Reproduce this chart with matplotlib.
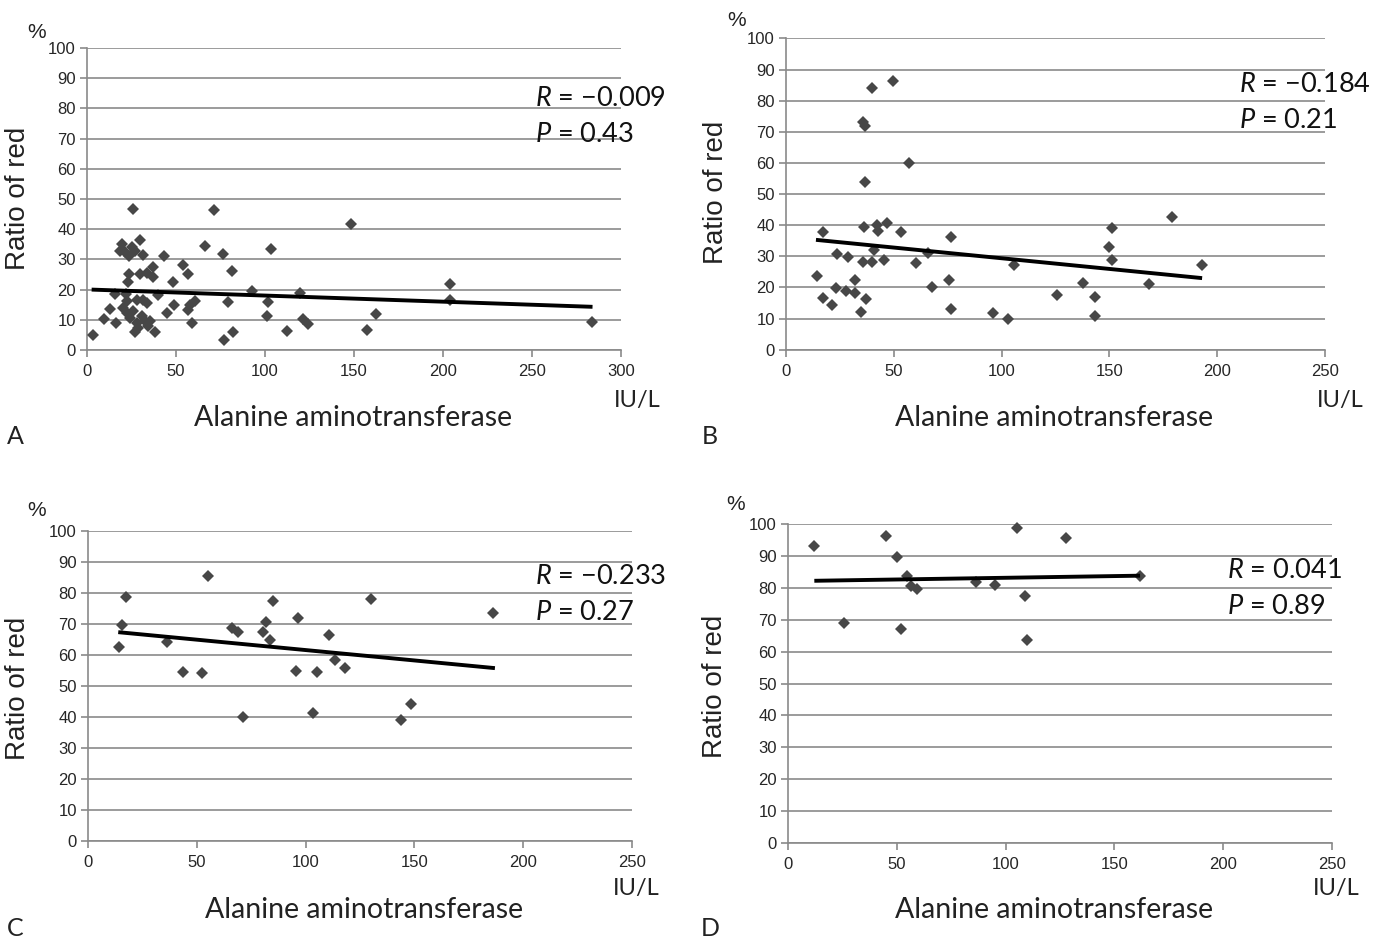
import matplotlib
matplotlib.use("Agg")
import matplotlib.pyplot as plt

plt.rcParams['mathtext.fontset'] = 'custom'
plt.rcParams['mathtext.it'] = 'Lato:italic'
plt.rcParams['mathtext.rm'] = 'Lato'

# ---------------- data ----------------
a_x = [3.5, 9.7, 12.9, 15.7, 16.1, 18.5, 19.5, 21.3, 23.8, 25.5, 27.0, 31.6, 26.0, 29.5,
       23.8, 29.8, 33.9, 23.2, 36.9, 36.9, 43.3, 48.3, 54.1, 56.7, 22.0, 22.3, 40.1, 27.9,
       31.6, 33.5, 20.4, 22.3, 24.2, 26.0, 27.9, 30.7, 32.6, 34.4, 27.0, 28.8, 38.2, 35.4,
       44.8, 48.9, 57.9, 60.7, 58.8, 56.9, 66.3, 71.3, 76.6, 81.5, 79.4, 77.0, 81.8, 92.5,
       101.5, 100.9, 103.2, 112.2, 119.7, 121.5, 124.3, 148.1, 157.5, 162.2, 203.9, 203.9, 283.5]
a_y = [4.9, 10.1, 13.5, 18.4, 9.0, 32.9, 35.1, 32.3, 31.2, 34.0, 32.7, 31.4, 46.8, 36.5,
       25.3, 25.0, 25.4, 22.5, 27.5, 24.3, 31.2, 22.4, 28.2, 25.1, 18.4, 16.2, 18.2, 16.4,
       16.7, 15.6, 13.9, 12.3, 10.6, 12.8, 8.9, 11.1, 9.5, 7.8, 6.1, 7.3, 5.9, 9.5,
       12.3, 15.0, 15.0, 16.2, 8.9, 13.4, 34.4, 46.4, 31.8, 26.2, 16.0, 3.3, 5.8, 19.6,
       16.0, 11.3, 33.4, 6.2, 19.0, 10.4, 8.7, 41.7, 6.5, 12.0, 22.0, 16.5, 9.2]
a_trend_x = [2.6, 284.0]
a_trend_y = [20.0, 14.3]

b_x = [14.2, 17.3, 17.3, 21.5, 23.2, 23.5, 27.8, 28.9, 32.0, 32.0, 34.8, 35.9, 36.6, 36.6,
       36.2, 35.9, 37.0, 39.7, 40.0, 41.0, 42.0, 42.5, 45.6, 46.7, 49.8, 53.2, 57.0, 60.3,
       65.7, 67.9, 75.7, 76.5, 76.5, 96.2, 103.1, 105.9, 125.6, 137.6, 143.3, 143.3, 149.7,
       151.4, 151.4, 168.5, 178.9, 192.8]
b_y = [23.6, 37.7, 16.6, 14.5, 19.7, 30.7, 19.0, 29.7, 22.5, 18.2, 12.0, 73.1, 71.8, 53.8,
       39.3, 28.1, 16.3, 28.1, 84.1, 32.0, 40.2, 38.3, 28.9, 40.7, 86.2, 37.7, 60.0, 27.9,
       31.0, 20.0, 22.5, 36.1, 13.1, 11.7, 9.9, 27.2, 17.7, 21.4, 17.0, 10.8, 33.1,
       39.0, 28.9, 21.1, 42.8, 27.3]
b_trend_x = [13.9, 193.0]
b_trend_y = [35.3, 23.0]

c_x = [14.4, 15.5, 17.3, 36.2, 43.5, 52.2, 55.0, 66.0, 69.1, 71.4, 80.3, 81.8, 83.6, 84.9,
       95.4, 96.4, 103.6, 105.4, 110.6, 113.7, 118.3, 130.0, 143.8, 148.4, 186.3]
c_y = [62.4, 69.7, 78.5, 64.0, 54.4, 54.1, 85.3, 68.6, 67.3, 39.8, 67.2, 70.7, 64.8, 77.2,
       54.9, 71.8, 41.2, 54.4, 66.5, 58.2, 55.7, 78.1, 39.0, 44.2, 73.6]
c_trend_x = [13.9, 187.0]
c_trend_y = [67.3, 55.7]

d_x = [12.1, 25.9, 44.9, 50.0, 51.8, 54.8, 56.4, 59.1, 86.4, 95.3, 105.1, 108.9, 109.7, 127.8, 161.8]
d_y = [93.2, 68.9, 96.3, 89.7, 67.0, 83.7, 80.6, 79.5, 81.7, 80.9, 98.6, 77.5, 63.6, 95.5, 83.8]
d_trend_x = [12.1, 161.8]
d_trend_y = [82.2, 83.8]

r_texts = ["−0.009", "−0.184", "−0.233", "0.041"]
p_texts = ["0.43", "0.21", "0.27", "0.89"]
panel_letters = ["A", "B", "C", "D"]
x_maxes = [300, 250, 250, 250]
y_ticks = list(range(0, 101, 10))

W, H = 1385, 942
fig = plt.figure(figsize=(W / 100, H / 100), dpi=100)


def rect(l, r, t, b):
    return [l / W, 1 - b / H, (r - l) / W, (b - t) / H]


def ft(x, y, s, **kw):
    fig.text(x / W, 1 - y / H, s, **kw)


panels = [
    dict(x=a_x, y=a_y, tx=a_trend_x, ty=a_trend_y, box=(87, 621, 48, 350),
         pct=(37, 33), ylab=(18, 198), xlab=(353, 418), iul=(637, 401),
         rp=(535, 98, 135), letter=(15, 437)),
    dict(x=b_x, y=b_y, tx=b_trend_x, ty=b_trend_y, box=(786, 1325, 38.5, 349.7),
         pct=(737, 20), ylab=(716, 192), xlab=(1054, 418), iul=(1340, 401),
         rp=(1239, 85, 121), letter=(710, 437)),
    dict(x=c_x, y=c_y, tx=c_trend_x, ty=c_trend_y, box=(88, 632, 530.8, 840.8),
         pct=(37, 511), ylab=(18, 688), xlab=(364, 910), iul=(636, 889),
         rp=(535, 577, 613), letter=(15, 928)),
    dict(x=d_x, y=d_y, tx=d_trend_x, ty=d_trend_y, box=(788, 1332, 524, 843),
         pct=(736, 505), ylab=(715, 686), xlab=(1054, 910), iul=(1336, 889),
         rp=(1227, 570, 606), letter=(710, 928)),
]

grid_c = '#8a8a8a'
for i, p in enumerate(panels):
    ax = fig.add_axes(rect(*p['box']))
    ax.set_xlim(0, x_maxes[i])
    ax.set_ylim(0, 100)
    ax.set_xticks(list(range(0, x_maxes[i] + 1, 50)))
    ax.set_yticks(y_ticks)
    ax.yaxis.grid(True, color=grid_c, linewidth=1.2)
    ax.set_axisbelow(True)
    for s in ['top', 'right']:
        ax.spines[s].set_visible(False)
    for s in ['left', 'bottom']:
        ax.spines[s].set_color(grid_c)
        ax.spines[s].set_linewidth(1.2)
    ax.tick_params(axis='both', direction='out', length=5, width=1.2, color=grid_c,
                   labelsize=12, labelcolor='#262626', pad=3)
    ax.tick_params(axis='x', pad=5)
    for lab in ax.get_xticklabels() + ax.get_yticklabels():
        lab.set_fontfamily('Liberation Sans')
    ax.plot(p['x'], p['y'], linestyle='none', marker='D', markersize=6.2,
            color='#474747', markeredgewidth=0, clip_on=False, zorder=3)
    ax.plot(p['tx'], p['ty'], color='black', linewidth=2.8, zorder=4,
            solid_capstyle='butt')

    ft(*p['pct'], '%', fontsize=15, family='Liberation Sans', ha='center', va='center',
       color='#222222')
    ft(*p['ylab'], 'Ratio of red', fontsize=20, family='Liberation Sans', rotation=90,
       ha='center', va='center', color='#222222')
    ft(*p['xlab'], 'Alanine aminotransferase', fontsize=20.5, family='Lato', ha='center',
       va='center', color='#222222')
    ft(*p['iul'], 'IU/L', fontsize=17, family='Lato', ha='center', va='center',
       color='#222222')
    rx, ry, py = p['rp']
    ft(rx, ry, r'$\mathit{R}$ = ' + r_texts[i], fontsize=19.5, family='Lato', ha='left',
       va='center', color='#111111')
    ft(rx, py, r'$\mathit{P}$ = ' + p_texts[i], fontsize=19.5, family='Lato', ha='left',
       va='center', color='#111111')
    ft(*p['letter'], panel_letters[i], fontsize=18, family='Lato', ha='center',
       va='center', color='#222222')

fig.savefig('out.png', dpi=100, facecolor='white')
